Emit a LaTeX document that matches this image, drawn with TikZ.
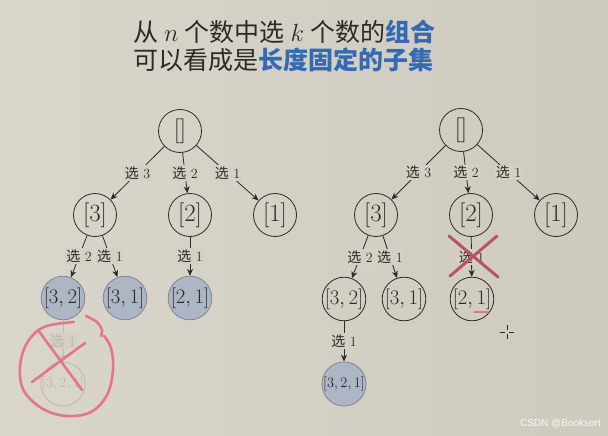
\documentclass[tikz,border=0pt]{standalone}
\usepackage{fontspec}
\newfontfamily\cjk{Noto Sans CJK SC}
\newfontfamily\wmfont{Liberation Sans}
\usetikzlibrary{arrows.meta}
\definecolor{bg}{RGB}{213,208,197}
\definecolor{bgl}{RGB}{218,214,204}
\definecolor{bgd}{RGB}{207,202,190}
\definecolor{nodefill}{RGB}{172,182,196}
\definecolor{nodeedge}{RGB}{125,135,150}
\definecolor{titleblue}{RGB}{52,106,180}
\definecolor{ink}{RGB}{45,42,38}
\definecolor{faint}{RGB}{188,183,176}
\definecolor{pinkmark}{RGB}{228,118,140}
\definecolor{xred}{RGB}{185,85,95}
\begin{document}
\begin{tikzpicture}[x=1pt,y=-1pt,
  st/.style={circle,draw=ink,line width=0.8pt,minimum size=43pt,inner sep=0pt,
     font=\fontsize{20}{24}\selectfont,text=ink},
  big/.style={st,font=\fontsize{23}{27}\selectfont},
  done/.style={st,fill=nodefill,draw=nodeedge},
  ghost/.style={st,draw=faint,text=faint},
  lab/.style={fill=bg,inner sep=1.5pt,font=\fontsize{14}{16}\selectfont,text=ink},
  ghostlab/.style={lab,text=faint},
  arr/.style={draw=ink,line width=0.8pt,-{Stealth[length=7pt,width=6pt]}},
  ghostarr/.style={arr,draw=faint},
  pinkline/.style={draw=pinkmark,line width=2.6pt,line cap=round,line join=round},
  xline/.style={draw=xred,line width=3pt,line cap=round},
]
\shade[left color=bgl,right color=bgd] (0,0) rectangle (608,436);
\useasboundingbox (0,0) rectangle (608,436);

% title
\node[anchor=base west,inner sep=0pt,text=ink,font=\cjk\fontsize{25}{30}\selectfont] (t1) at (133,42)
  {从\hspace{6pt}$n$\hspace{6pt}个数中选\hspace{6pt}$k$\hspace{6pt}个数的{\color{titleblue}\bfseries 组合}};
\node[anchor=base west,inner sep=0pt,text=ink,font=\cjk\fontsize{25}{30}\selectfont] (t2) at (133,70)
  {可以看成是{\color{titleblue}\bfseries 长度固定的子集}};

% left tree
\node[big] (L) at (180,131) {$[]$};
\node[big] (L3) at (95,215) {$[3]$};
\node[big] (L2) at (190,215) {$[2]$};
\node[big] (L1) at (275,215) {$[1]$};
\node[done] (L32) at (63,298) {$[3,2]$};
\node[done] (L31) at (125,298) {$[3,1]$};
\node[done] (L21) at (190,298) {$[2,1]$};
\node[ghost,font=\fontsize{14}{16}\selectfont] (L321) at (63,384) {$[3,2,1]$};

\draw[arr] (L) -- node[lab] {{\cjk 选} 3} (L3);
\draw[arr] (L) -- node[lab] {{\cjk 选} 2} (L2);
\draw[arr] (L) -- node[lab] {{\cjk 选} 1} (L1);
\draw[arr] (L3) -- node[lab] {{\cjk 选} 2} (L32);
\draw[arr] (L3) -- node[lab] {{\cjk 选} 1} (L31);
\draw[arr] (L2) -- node[lab] {{\cjk 选} 1} (L21);
\draw[ghostarr] (L32) -- node[ghostlab] {{\cjk 选} 1} (L321);

% pink marks on left
\draw[pinkline] plot[smooth,tension=0.6] coordinates
  {(74,322) (44,327) (27,343) (20,367) (24,391) (43,409) (67,416) (91,412) (107,395) (113,370) (111,348) (104,336)};
\draw[pinkline] plot[smooth,tension=0.6] coordinates {(86,316) (97,322) (102,330) (101,336)};
\draw[pinkline] (38,330) -- (82,390);
\draw[pinkline] (85,343) -- (32,382);

% right tree
\node[big] (R) at (461,130) {$[]$};
\node[big] (R3) at (376,215) {$[3]$};
\node[big] (R2) at (471,215) {$[2]$};
\node[big] (R1) at (556,215) {$[1]$};
\node[st] (R32) at (344,299) {$[3,2]$};
\node[st] (R31) at (404,299) {$[3,1]$};
\node[st] (R21) at (472,299) {$[2,1]$};
\node[done,font=\fontsize{14}{16}\selectfont] (R321) at (344,384) {$[3,2,1]$};

\draw[arr] (R) -- node[lab] {{\cjk 选} 3} (R3);
\draw[arr] (R) -- node[lab] {{\cjk 选} 2} (R2);
\draw[arr] (R) -- node[lab] {{\cjk 选} 1} (R1);
\draw[arr] (R3) -- node[lab] {{\cjk 选} 2} (R32);
\draw[arr] (R3) -- node[lab] {{\cjk 选} 1} (R31);
\draw[arr] (R2) -- node[lab] {{\cjk 选} 1} (R21);
\draw[arr] (R32) -- node[lab] {{\cjk 选} 1} (R321);

% red cross and underline on right
\draw[xline] (449,236) -- (498,277);
\draw[xline] (497,236) -- (450,276);
\draw[pinkline,line width=2pt] (474,312) -- (488,312);

% cursor
\coordinate (cur) at (507,332);
\draw[ink,line width=0.8pt] ([xshift=-7pt]cur) -- ([xshift=-2pt]cur) ([xshift=2pt]cur) -- ([xshift=7pt]cur)
  ([yshift=-7pt]cur) -- ([yshift=-2pt]cur) ([yshift=2pt]cur) -- ([yshift=7pt]cur);

% watermark
\node[anchor=east,inner sep=0pt,text=white!85!bg,font=\wmfont\fontsize{10}{12}\selectfont] (wm) at (601,424) {CSDN @Booksort};
\end{tikzpicture}
\end{document}
